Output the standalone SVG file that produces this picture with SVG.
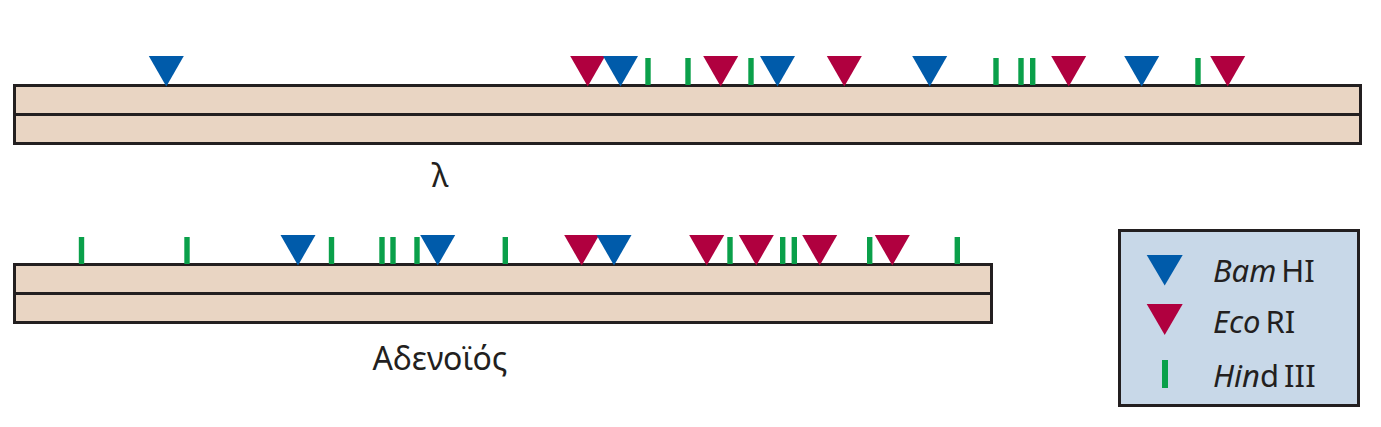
<svg xmlns="http://www.w3.org/2000/svg" width="1381" height="427" viewBox="0 0 1381 427">
<defs>
<style>
.bar{fill:#E9D5C3;stroke:#231F20;stroke-width:3}
.mid{stroke:#231F20;stroke-width:3}
.bam{fill:#005BAA}
.eco{fill:#B0003F}
.hind{fill:#0AA04A}
.lbl{font-family:"Noto Sans","Liberation Sans",sans-serif;font-size:32px;fill:#231F20}
.leg{font-family:"Noto Sans","Liberation Sans",sans-serif;font-size:31px;fill:#231F20}
.it{font-style:italic}
</style>
<polygon id="tri" points="-17.5,0 17.5,0 0,30.5"/>
<rect id="tick" x="-2.7" y="0" width="5.4" height="27"/>
</defs>

<g id="lambda">
<rect class="bar" x="14.5" y="85.5" width="1346" height="58"/>
<line class="mid" x1="14.5" y1="114.5" x2="1360.5" y2="114.5"/>
<g transform="translate(0,56)">
<use href="#tri" class="bam" x="166.3"/>
<use href="#tri" class="eco" x="587.7"/>
<use href="#tri" class="bam" x="620.5"/>
<use href="#tri" class="eco" x="720.7"/>
<use href="#tri" class="bam" x="777.5"/>
<use href="#tri" class="eco" x="844.3"/>
<use href="#tri" class="bam" x="929.7"/>
<use href="#tri" class="eco" x="1068.7"/>
<use href="#tri" class="bam" x="1141.7"/>
<use href="#tri" class="eco" x="1227.7"/>
</g>
<g transform="translate(0,58)">
<use href="#tick" class="hind" x="648"/>
<use href="#tick" class="hind" x="688"/>
<use href="#tick" class="hind" x="751"/>
<use href="#tick" class="hind" x="996"/>
<use href="#tick" class="hind" x="1021"/>
<use href="#tick" class="hind" x="1032.7"/>
<use href="#tick" class="hind" x="1198"/>
</g>
<text class="lbl" x="440" y="187" text-anchor="middle">λ</text>
</g>

<g id="adeno">
<rect class="bar" x="14.5" y="264.5" width="977" height="58"/>
<line class="mid" x1="14.5" y1="293.5" x2="991.5" y2="293.5"/>
<g transform="translate(0,235)">
<use href="#tri" class="bam" x="298"/>
<use href="#tri" class="bam" x="437.7"/>
<use href="#tri" class="eco" x="581.7"/>
<use href="#tri" class="bam" x="614"/>
<use href="#tri" class="eco" x="706.7"/>
<use href="#tri" class="eco" x="756.3"/>
<use href="#tri" class="eco" x="819.7"/>
<use href="#tri" class="eco" x="892.3"/>
</g>
<g transform="translate(0,237)">
<use href="#tick" class="hind" x="81.5"/>
<use href="#tick" class="hind" x="187"/>
<use href="#tick" class="hind" x="331.5"/>
<use href="#tick" class="hind" x="382"/>
<use href="#tick" class="hind" x="393"/>
<use href="#tick" class="hind" x="417"/>
<use href="#tick" class="hind" x="505.3"/>
<use href="#tick" class="hind" x="730"/>
<use href="#tick" class="hind" x="782.7"/>
<use href="#tick" class="hind" x="794.3"/>
<use href="#tick" class="hind" x="869.7"/>
<use href="#tick" class="hind" x="957.3"/>
</g>
<text class="lbl" x="440" y="370" text-anchor="middle">Αδενοϊός</text>
</g>

<g id="legend">
<rect x="1119.5" y="230.5" width="239" height="175" fill="#C8D8E8" stroke="#231F20" stroke-width="3"/>
<polygon class="bam" points="1146.7,255 1182.7,255 1164.7,285.5"/>
<polygon class="eco" points="1146.7,304 1182.7,304 1164.7,335"/>
<rect class="hind" x="1162" y="360" width="6" height="28"/>
<text class="leg" x="1213" y="282"><tspan class="it">Bam</tspan><tspan dx="5">HI</tspan></text>
<text class="leg" x="1213" y="333"><tspan class="it">Eco</tspan><tspan dx="5">RI</tspan></text>
<text class="leg" x="1213" y="387"><tspan class="it">Hin</tspan><tspan>d</tspan><tspan dx="5">III</tspan></text>
</g>
</svg>
